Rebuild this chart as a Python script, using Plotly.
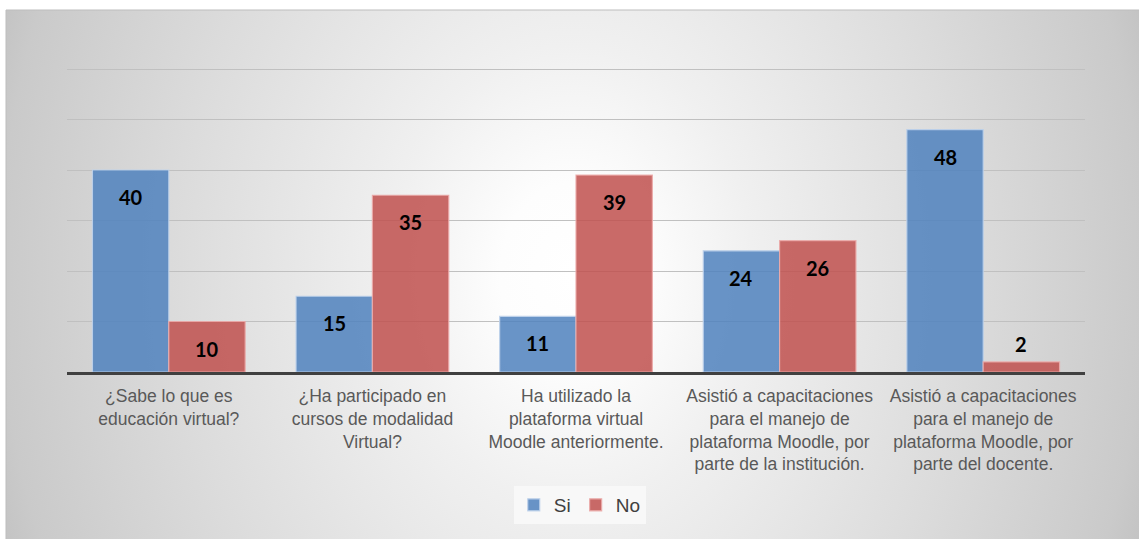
import plotly.graph_objects as go

categories = [
    "¿Sabe lo que es<br>educación virtual?",
    "¿Ha participado en<br>cursos de modalidad<br>Virtual?",
    "Ha utilizado la<br>plataforma virtual<br>Moodle anteriormente.",
    "Asistió a capacitaciones<br>para el manejo de<br>plataforma Moodle, por<br>parte de la institución.",
    "Asistió a capacitaciones<br>para el manejo de<br>plataforma Moodle, por<br>parte del docente.",
]
si_values = [40, 15, 11, 24, 48]
no_values = [10, 35, 39, 26, 2]
series_names = ["Si", "No"]

W, H = 1139, 539
TOP = 10   # white strip above the panel
LEFT = 6   # white strip left of the panel
x_idx = list(range(len(categories)))

fig = go.Figure()

# background panel with a radial gradient; the fill polygon is larger than the
# visible subplot so that the gradient is a wide, tall ellipse (clipped)
fig.add_trace(go.Scatter(
    x=[-30, 1175, 1175, -30, -30], y=[-500, -500, 1029, 1029, -500],
    mode="lines", fill="toself", line=dict(width=0, color="rgba(0,0,0,0)"),
    fillgradient=dict(type="radial",
                      colorscale=[[0, "#ffffff"], [0.12, "#fdfdfd"], [0.3, "#f0f0f0"],
                                  [0.65, "#dcdcdc"], [0.95, "#cacaca"], [1, "#c4c4c4"]]),
    hoverinfo="skip", showlegend=False, xaxis="x", yaxis="y",
))

colors = ["rgba(79,129,189,0.85)", "rgba(192,80,77,0.85)"]
lines = ["rgba(190,210,235,0.9)", "rgba(235,170,168,0.9)"]
for name, vals, c, lc in zip(series_names, [si_values, no_values], colors, lines):
    fig.add_trace(go.Bar(
        x=x_idx, y=vals, name=name, xaxis="x2", yaxis="y2",
        marker=dict(color=c, line=dict(color=lc, width=1.2)),
        hoverinfo="skip",
    ))

# value labels
offsets = [-0.1875, 0.1875]
annotations = []
for off, vals in zip(offsets, [si_values, no_values]):
    for i, v in enumerate(vals):
        inside = v >= 5
        annotations.append(dict(
            x=i + off, y=v, xref="x2", yref="y2", text=str(v), showarrow=False,
            yanchor="middle", yshift=-27 if inside else 18,
            font=dict(family="Lato", size=20, color="#000000", weight="bold"),
        ))

# plot area: x from 67 to 1085 px, value 0 at 372 px, value 60 at 69 px
px_per_unit = (372 - 69) / 60
y_max = 61
x0, x1 = 67 / W, 1085 / W
y0 = (H - 372) / H
y1 = (H - (372 - y_max * px_per_unit)) / H

fig.update_layout(
    width=W, height=H, autosize=False,
    margin=dict(l=0, r=0, t=0, b=0),
    paper_bgcolor="#ffffff", plot_bgcolor="rgba(0,0,0,0)",
    barmode="group", bargap=0.25, bargroupgap=0,
    xaxis=dict(domain=[LEFT / W, 1], range=[LEFT, W], visible=False, fixedrange=True),
    yaxis=dict(domain=[0, (H - TOP) / H], range=[0, H - TOP], visible=False, fixedrange=True),
    xaxis2=dict(domain=[x0, x1], range=[-0.5, len(categories) - 0.5], anchor="y2",
                tickvals=x_idx, ticktext=categories, showgrid=False, zeroline=False,
                showline=True, linecolor="#404040", linewidth=3, ticks="",
                ticklabelstandoff=6,
                tickfont=dict(family="Liberation Sans", size=17.5, color="#595959")),
    yaxis2=dict(domain=[y0, y1], range=[0, y_max], tickvals=[10, 20, 30, 40, 50, 60], anchor="x2",
                showticklabels=False, showgrid=True, gridcolor="#c0c0c0", gridwidth=1,
                zeroline=False, showline=False),
    legend=dict(orientation="h", x=0.509, y=1 - 505 / H, xanchor="center", yanchor="middle",
                bgcolor="rgba(248,248,248,0.9)",
                font=dict(family="Liberation Sans", size=19, color="#404040")),
    annotations=annotations,
    shapes=[dict(type="rect", xref="paper", yref="paper",
                 x0=LEFT / W, x1=1.01, y0=-0.01, y1=(H - TOP) / H,
                 line=dict(color="#bdbdbd", width=1), fillcolor="rgba(0,0,0,0)", layer="above")],
    showlegend=True,
)

fig.write_html("out.html")
